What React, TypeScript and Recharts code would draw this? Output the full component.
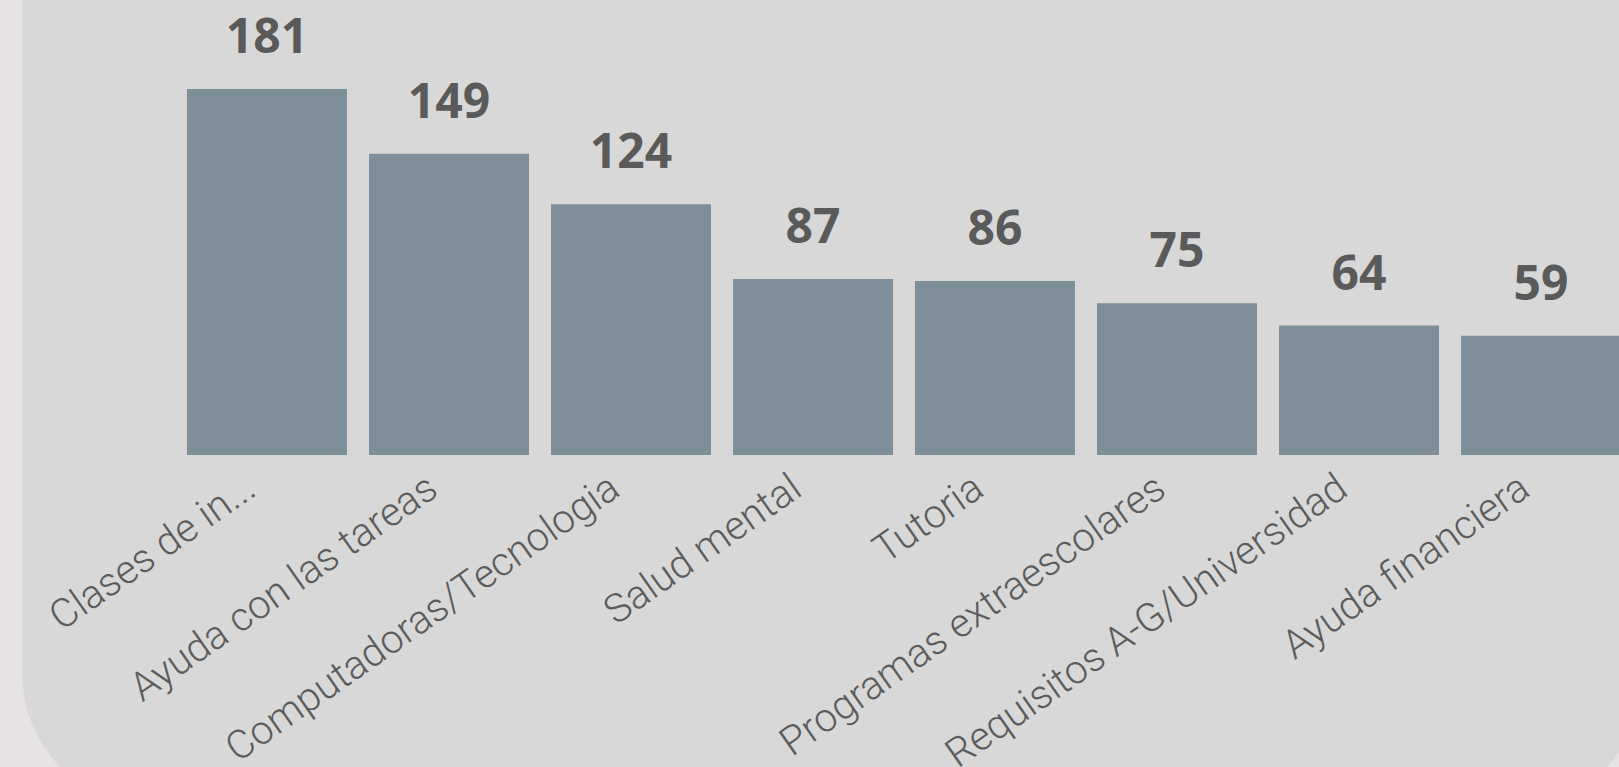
import { Bar, BarChart, LabelList, XAxis, YAxis } from "recharts";

const categories = [
  "Clases de in...",
  "Ayuda con las tareas",
  "Computadoras/Tecnologia",
  "Salud mental",
  "Tutoria",
  "Programas extraescolares",
  "Requisitos A-G/Universidad",
  "Ayuda financiera",
];
const counts = [181, 149, 124, 87, 86, 75, 64, 59];

const data = categories.map((name, i) => ({ name, count: counts[i] }));

const lightFont = "'Segoe UI Light', Roboto, 'Open Sans', sans-serif";
const boldFont = "'Segoe UI', 'Open Sans', 'Noto Sans', sans-serif";

// rotated category label, its end sits just left of the bar centre
function AngledTick({ x, y, payload }: any) {
  const tx = x - 9;
  const ty = y + 39;
  return (
    <text
      x={tx}
      y={ty}
      textAnchor="end"
      transform={`rotate(-35 ${tx} ${ty})`}
      fill="#5c5c5c"
      fontSize={40}
      fontWeight={300}
      fontFamily={lightFont}
    >
      {payload.value}
    </text>
  );
}

export default function App() {
  return (
    <div style={{ position: "fixed", inset: 0, overflow: "hidden", background: "#e6e3e2" }}>
      <div
        style={{
          position: "absolute",
          left: 22,
          top: -300,
          width: 1623,
          height: 1108,
          borderRadius: 135,
          background: "#d8d8d8",
        }}
      />
      <div style={{ position: "absolute", left: 0, top: 0 }}>
        <BarChart
          width={1632}
          height={767}
          data={data}
          margin={{ top: 89, right: 0, bottom: 0, left: 176 }}
          barCategoryGap={11}
        >
          <XAxis
            dataKey="name"
            interval={0}
            height={312}
            axisLine={false}
            tickLine={false}
            tickSize={0}
            tickMargin={0}
            tick={AngledTick}
          />
          <YAxis hide domain={[0, "dataMax"]} />
          <Bar dataKey="count" fill="#7f8f99" isAnimationActive={false}>
            <LabelList
              dataKey="count"
              position="top"
              offset={36}
              fill="#5a5a5a"
              fontSize={48}
              fontWeight={700}
              fontFamily={boldFont}
            />
          </Bar>
        </BarChart>
      </div>
    </div>
  );
}
